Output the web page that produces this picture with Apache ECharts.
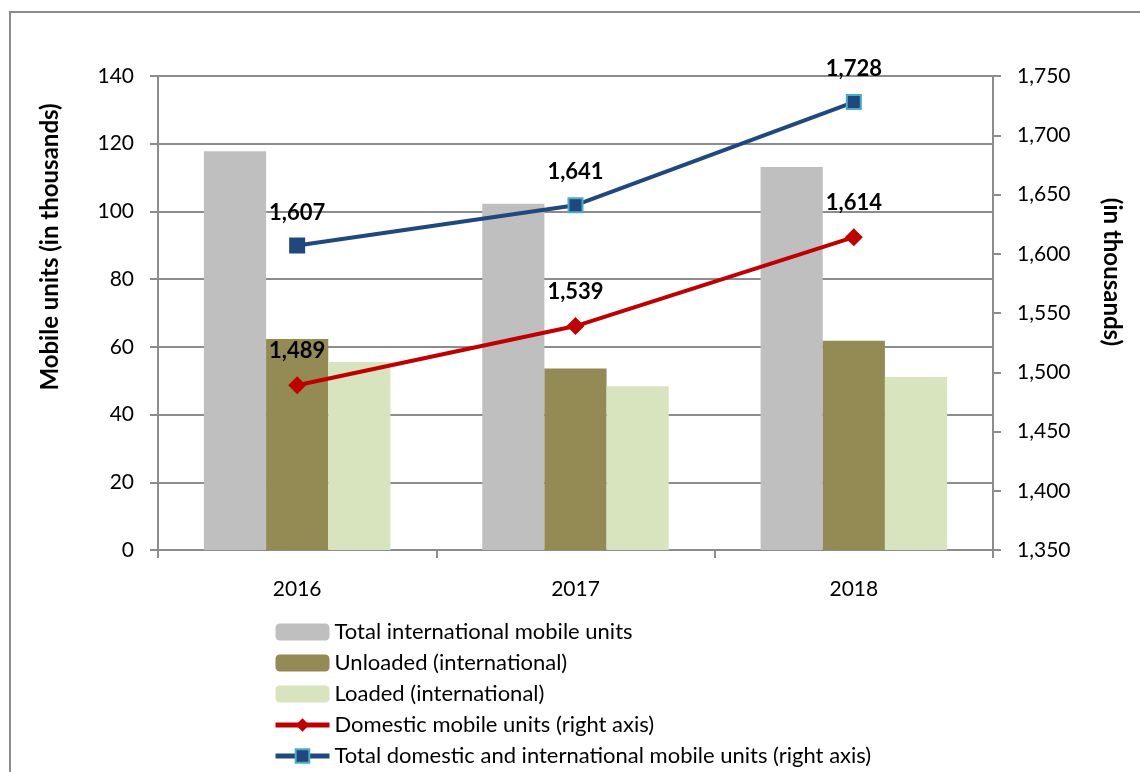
<!DOCTYPE html>
<html>
<head>
<meta charset="utf-8">
<script src="https://cdn.jsdelivr.net/npm/echarts@6/dist/echarts.min.js"></script>
<style>html,body{margin:0;padding:0;background:#fff}#c{width:1140px;height:772px}</style>
</head>
<body>
<div id="c"></div>
<script>
const categories = ['2016', '2017', '2018'];
const totalIntl = [117.8, 102.3, 113.1];
const unloaded = [62.3, 53.6, 61.8];
const loaded = [55.5, 48.4, 51.1];
const domestic = [1489, 1539, 1614];
const totalAll = [1607, 1641, 1728];
const leftTicks = [0, 140, 20];
const rightTicks = [1350, 1750, 50];

const FONT = 'Lato';
const axisGray = '#8c8c8c';
const chart = echarts.init(document.getElementById('c'));
const lbl = {
  show: true, position: 'top', distance: 14, color: '#000', fontFamily: FONT,
  fontWeight: 'bold', fontSize: 22,
  formatter: p => p.value.toLocaleString('en-US')
};
chart.setOption({
  animation: false,
  textStyle: { fontFamily: FONT },
  graphic: [
    { type: 'rect', shape: { x: 10, y: 12, width: 1300, height: 900 },
      style: { fill: 'none', stroke: axisGray, lineWidth: 2 }, silent: true },
    { type: 'text', x: 50, y: 247, rotation: Math.PI / 2,
      style: { text: 'Mobile units (in thousands)', fontFamily: FONT, fontWeight: 'bold', fontSize: 24,
        fill: '#000', align: 'center', verticalAlign: 'middle' } },
    { type: 'text', x: 1112, y: 272, rotation: -Math.PI / 2,
      style: { text: '(in thousands)', fontFamily: FONT, fontWeight: 'bold', fontSize: 24,
        fill: '#000', align: 'center', verticalAlign: 'middle' } }
  ],
  grid: { left: 158, right: 147, top: 76, bottom: 222, containLabel: false },
  legend: {
    orient: 'vertical', left: 273, top: 621, itemGap: 9, itemWidth: 54, itemHeight: 17, padding: 0,
    textStyle: { fontFamily: FONT, fontSize: 22, color: '#000', lineHeight: 22 },
    data: [
      { name: 'Total international mobile units' },
      { name: 'Unloaded (international)' },
      { name: 'Loaded (international)' },
      { name: 'Domestic mobile units (right axis)', lineStyle: { width: 5 } },
      { name: 'Total domestic and international mobile units (right axis)', lineStyle: { width: 5 } }
    ]
  },
  xAxis: {
    type: 'category', data: categories,
    axisLine: { lineStyle: { color: axisGray, width: 2 } },
    axisTick: { show: true, length: 8, alignWithLabel: false, lineStyle: { color: axisGray, width: 2 } },
    axisLabel: { color: '#000', fontSize: 21, fontFamily: FONT, margin: 29 }
  },
  yAxis: [
    { type: 'value', min: leftTicks[0], max: leftTicks[1], interval: leftTicks[2],
      axisLine: { show: true, lineStyle: { color: axisGray, width: 2 } },
      axisTick: { show: true, length: 8, lineStyle: { color: axisGray, width: 2 } },
      splitLine: { lineStyle: { color: axisGray, width: 2 } },
      axisLabel: { color: '#000', fontSize: 21, fontFamily: FONT, margin: 24 } },
    { type: 'value', min: rightTicks[0], max: rightTicks[1], interval: rightTicks[2], position: 'right',
      axisLine: { show: true, lineStyle: { color: axisGray, width: 2 } },
      axisTick: { show: true, length: 8, lineStyle: { color: axisGray, width: 2 } },
      splitLine: { show: false },
      axisLabel: { color: '#000', fontSize: 21, fontFamily: FONT, margin: 24,
        formatter: v => v.toLocaleString('en-US') } }
  ],
  series: [
    { name: 'Total international mobile units', type: 'bar', data: totalIntl, barGap: '0%', barCategoryGap: '33%',
      itemStyle: { color: '#BFBFBF' } },
    { name: 'Unloaded (international)', type: 'bar', data: unloaded, itemStyle: { color: '#948A54' } },
    { name: 'Loaded (international)', type: 'bar', data: loaded, itemStyle: { color: '#D7E4BD' } },
    { name: 'Domestic mobile units (right axis)', type: 'line', yAxisIndex: 1, data: domestic,
      symbol: 'diamond', symbolSize: 18, lineStyle: { color: '#C00000', width: 4 },
      itemStyle: { color: '#C00000' }, label: lbl },
    { name: 'Total domestic and international mobile units (right axis)', type: 'line', yAxisIndex: 1,
      data: totalAll.map((v, i) => i === 0 ? { value: v, itemStyle: { borderColor: '#1F497D' } } : v),
      symbol: 'rect', symbolSize: 14, lineStyle: { color: '#1F497D', width: 4 },
      itemStyle: { color: '#1F497D', borderColor: '#4BACC6', borderWidth: 2 }, label: lbl }
  ]
});
</script>
</body>
</html>
